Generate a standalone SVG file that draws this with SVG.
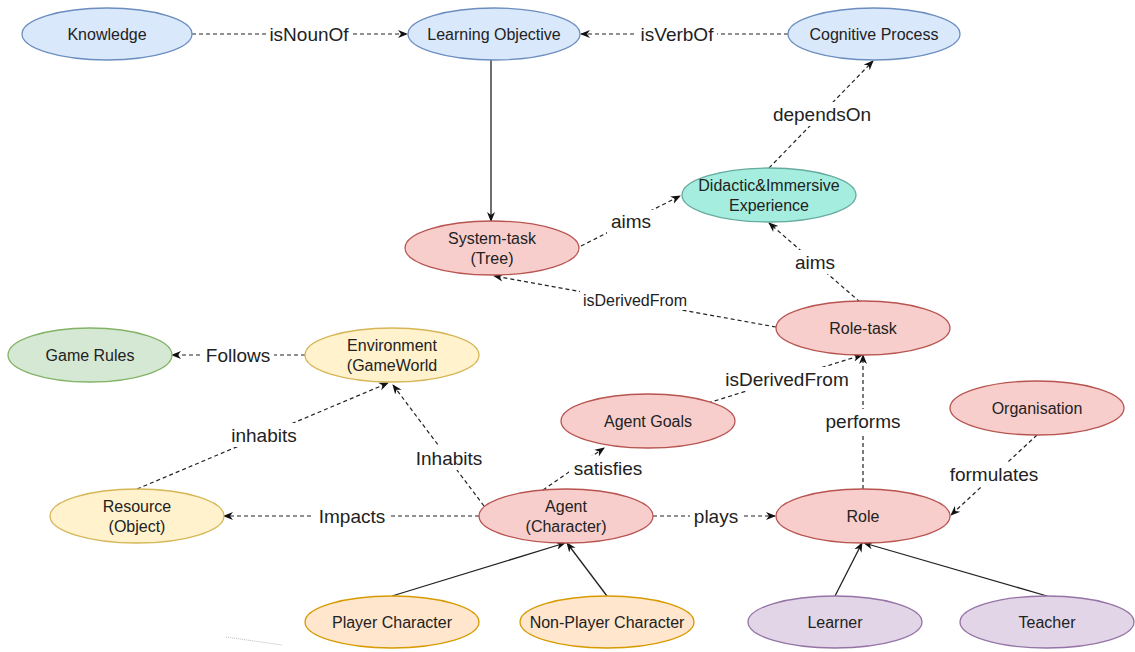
<svg xmlns="http://www.w3.org/2000/svg" width="1135" height="652" viewBox="0 0 1135 652">
<style>
.n{stroke-width:1.3}
.blue{fill:#dae8fc;stroke:#6c8ebf}
.red{fill:#f8cecc;stroke:#b85450}
.yel{fill:#fff2cc;stroke:#d6b656}
.grn{fill:#d5e8d4;stroke:#82b366}
.pur{fill:#e1d5e7;stroke:#9673a6}
.org{fill:#ffe6cc;stroke:#d79b00}
.teal{fill:#a4eddf;stroke:#67ab9f}
.t{font-family:"Liberation Sans",Arial,sans-serif;font-size:16px;fill:#222;text-anchor:middle;dominant-baseline:central}
.l{font-family:"Liberation Sans",Arial,sans-serif;font-size:19px;fill:#222;text-anchor:middle;dominant-baseline:central}
.ls{font-size:16px}
.d{fill:none;stroke:#222;stroke-width:1.2;stroke-dasharray:4 3;marker-end:url(#a)}
.s{fill:none;stroke:#222;stroke-width:1.3;marker-end:url(#a)}
.bg{fill:#fff}
</style>
<defs>
<marker id="a" viewBox="0 0 10 10" refX="9" refY="5" markerWidth="10" markerHeight="10" markerUnits="userSpaceOnUse" orient="auto">
<path d="M0,1 L10,5 L0,9 L3,5 z" fill="#111"/>
</marker>
</defs>
<rect width="1135" height="652" fill="#fff"/>
<g id="connectors">
<line class="d" x1="192" y1="34" x2="407" y2="34"/>
<line class="d" x1="788" y1="34" x2="581" y2="34"/>
<line class="s" x1="491" y1="60" x2="491" y2="221"/>
<line class="d" x1="581" y1="246" x2="680" y2="196"/>
<line class="d" x1="769" y1="168" x2="873" y2="61"/>
<line class="d" x1="860" y1="302" x2="769" y2="223"/>
<line class="d" x1="776" y1="327" x2="494" y2="276"/>
<line class="d" x1="305" y1="355" x2="172" y2="355"/>
<line class="d" x1="137" y1="489" x2="388" y2="383"/>
<line class="d" x1="484" y1="506" x2="393" y2="385"/>
<line class="d" x1="479" y1="516" x2="224" y2="516"/>
<line class="d" x1="543" y1="490" x2="604" y2="448"/>
<line class="d" x1="653" y1="516" x2="775" y2="516"/>
<line class="d" x1="708" y1="403" x2="862" y2="355"/>
<line class="d" x1="863" y1="489" x2="863" y2="355"/>
<line class="d" x1="1037" y1="435" x2="951" y2="515"/>
<line class="s" x1="392" y1="596" x2="565" y2="543"/>
<line class="s" x1="607" y1="596" x2="567" y2="543"/>
<line class="s" x1="835" y1="596" x2="862" y2="543"/>
<line class="s" x1="1047" y1="596" x2="864" y2="543"/>
<line x1="226" y1="637" x2="282" y2="645" stroke="#bbb" stroke-width="1" stroke-dasharray="1 1"/>
<rect class="bg" x="266" y="23" width="86" height="22"/><text class="l" x="309" y="34">isNounOf</text>
<rect class="bg" x="637" y="23" width="80" height="22"/><text class="l" x="677" y="34">isVerbOf</text>
<rect class="bg" x="607" y="210" width="48" height="24"/><text class="l" x="631" y="221">aims</text>
<rect class="bg" x="768" y="102" width="108" height="24"/><text class="l" x="822" y="114">dependsOn</text>
<rect class="bg" x="791" y="250" width="48" height="24"/><text class="l" x="815" y="262">aims</text>
<rect class="bg" x="580" y="290" width="110" height="20"/><text class="l ls" x="635" y="300">isDerivedFrom</text>
<rect class="bg" x="202" y="344" width="72" height="22"/><text class="l" x="238" y="355">Follows</text>
<rect class="bg" x="228" y="423" width="72" height="24"/><text class="l" x="264" y="435">inhabits</text>
<rect class="bg" x="412" y="446" width="74" height="24"/><text class="l" x="449" y="458">Inhabits</text>
<rect class="bg" x="314" y="505" width="76" height="22"/><text class="l" x="352" y="516">Impacts</text>
<rect class="bg" x="569" y="456" width="78" height="24"/><text class="l" x="608" y="468">satisfies</text>
<rect class="bg" x="690" y="505" width="52" height="22"/><text class="l" x="716" y="516">plays</text>
<rect class="bg" x="722" y="367" width="130" height="24"/><text class="l" x="787" y="379">isDerivedFrom</text>
<rect class="bg" x="822" y="409" width="82" height="24"/><text class="l" x="863" y="421">performs</text>
<rect class="bg" x="945" y="462" width="98" height="24"/><text class="l" x="994" y="474">formulates</text>
</g>
<g id="knowledge"><ellipse class="n blue" cx="107" cy="34" rx="85" ry="26"/><text class="t" x="107" y="34">Knowledge</text></g>
<g id="learning-objective"><ellipse class="n blue" cx="494" cy="34" rx="86" ry="26"/><text class="t" x="494" y="34">Learning Objective</text></g>
<g id="cognitive-process"><ellipse class="n blue" cx="874" cy="34" rx="86" ry="26"/><text class="t" x="874" y="34">Cognitive Process</text></g>
<g id="didactic"><ellipse class="n teal" cx="769" cy="195" rx="87" ry="27"/><text class="t" x="769" y="185">Didactic&amp;Immersive</text><text class="t" x="769" y="205">Experience</text></g>
<g id="system-task"><ellipse class="n red" cx="492" cy="248" rx="87" ry="27"/><text class="t" x="492" y="238">System-task</text><text class="t" x="492" y="258">(Tree)</text></g>
<g id="role-task"><ellipse class="n red" cx="863" cy="328" rx="87" ry="27"/><text class="t" x="863" y="328">Role-task</text></g>
<g id="game-rules"><ellipse class="n grn" cx="90" cy="355" rx="82" ry="27"/><text class="t" x="90" y="355">Game Rules</text></g>
<g id="environment"><ellipse class="n yel" cx="392" cy="355" rx="87" ry="27"/><text class="t" x="392" y="345">Environment</text><text class="t" x="392" y="365">(GameWorld</text></g>
<g id="agent-goals"><ellipse class="n red" cx="648" cy="421" rx="87" ry="27"/><text class="t" x="648" y="421">Agent Goals</text></g>
<g id="organisation"><ellipse class="n red" cx="1037" cy="408" rx="87" ry="27"/><text class="t" x="1037" y="408">Organisation</text></g>
<g id="resource"><ellipse class="n yel" cx="137" cy="516" rx="87" ry="27"/><text class="t" x="137" y="506">Resource</text><text class="t" x="137" y="526">(Object)</text></g>
<g id="agent"><ellipse class="n red" cx="566" cy="516" rx="87" ry="27"/><text class="t" x="566" y="506">Agent</text><text class="t" x="566" y="526">(Character)</text></g>
<g id="role"><ellipse class="n red" cx="863" cy="516" rx="87" ry="27"/><text class="t" x="863" y="516">Role</text></g>
<g id="player-character"><ellipse class="n org" cx="392" cy="622" rx="87" ry="26"/><text class="t" x="392" y="622">Player Character</text></g>
<g id="npc"><ellipse class="n org" cx="607" cy="622" rx="87" ry="26"/><text class="t" x="607" y="622">Non-Player Character</text></g>
<g id="learner"><ellipse class="n pur" cx="835" cy="622" rx="87" ry="26"/><text class="t" x="835" y="622">Learner</text></g>
<g id="teacher"><ellipse class="n pur" cx="1047" cy="622" rx="87" ry="26"/><text class="t" x="1047" y="622">Teacher</text></g>
</svg>
